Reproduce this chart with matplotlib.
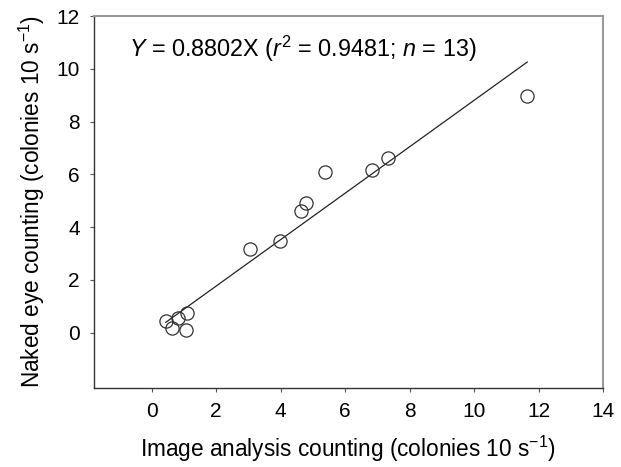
import matplotlib
matplotlib.use("Agg")
import matplotlib.pyplot as plt
import numpy as np

plt.rcParams['font.family'] = ['Liberation Sans', 'DejaVu Sans']
plt.rcParams['mathtext.fontset'] = 'custom'
plt.rcParams['mathtext.rm'] = 'Liberation Sans'
plt.rcParams['mathtext.it'] = 'Liberation Sans:italic'

# Daten
image_counts = [0.44, 0.63, 0.82, 1.07, 1.10, 3.05, 3.98, 4.64, 4.79, 5.38, 6.84, 7.34, 11.65]
eye_counts = [0.45, 0.19, 0.57, 0.11, 0.76, 3.15, 3.48, 4.62, 4.90, 6.10, 6.17, 6.62, 8.95]
slope = 0.8802
x_ticks = [0, 2, 4, 6, 8, 10, 12, 14]
y_ticks = [0, 2, 4, 6, 8, 10, 12]

fig = plt.figure(figsize=(6.21, 4.67), dpi=100)
ax = fig.add_axes([0.1506, 0.1692, 0.8204, 0.7965])

# Regressionsgerade
line_x = np.array([min(image_counts), max(image_counts)])
ax.plot(line_x, slope * line_x, color="#222222", linewidth=0.9, zorder=2)

ax.plot(image_counts, eye_counts, "o", markersize=9.5, markerfacecolor="none",
        markeredgecolor="#333333", markeredgewidth=0.9, zorder=3)

ax.set_xlim(-1.8, 14)
ax.set_ylim(-2.1, 12)
ax.set_xticks(x_ticks)
ax.set_yticks(y_ticks)
ax.tick_params(direction="out", length=3, width=0.8, color="#555555",
               labelsize=15, pad=7)

for side in ["left", "bottom"]:
    ax.spines[side].set_color("#333333")
    ax.spines[side].set_linewidth(1.0)
for side in ["top", "right"]:
    ax.spines[side].set_color("#999999")
    ax.spines[side].set_linewidth(1.5)

ax.set_xlabel("Image analysis counting (colonies 10 s$^{-1}$)", fontsize=16.3, labelpad=9)
ax.set_ylabel("Naked eye counting (colonies 10 s$^{-1}$)", fontsize=16.3, labelpad=7)

ax.text(0.07, 0.912, r"$\mathit{Y}$ = 0.8802X ($\mathit{r}^2$ = 0.9481; $\mathit{n}$ = 13)",
        transform=ax.transAxes, fontsize=16.8, va="center", ha="left")

fig.savefig("out.png", dpi=100)
